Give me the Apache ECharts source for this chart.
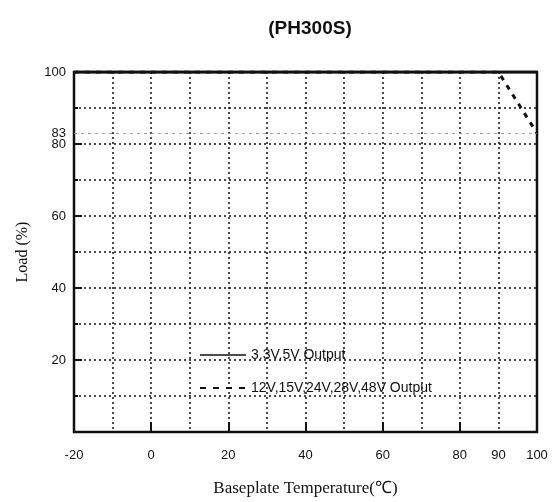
<!DOCTYPE html>
<html>
<head>
<meta charset="utf-8">
<script src="https://cdn.jsdelivr.net/npm/echarts@6/dist/echarts.min.js"></script>
<style>
  html, body { margin: 0; padding: 0; background: #fff; }
  #chart { width: 560px; height: 502px; }
</style>
</head>
<body>
<div id="chart"></div>
<script>
// derating curve data
var lowVoltData = [[-20, 100], [100, 100]];
var highVoltData = [[-20, 100], [90, 100], [100, 83]];
var markValue = 83;
var xLabelValues = [-20, 0, 20, 40, 60, 80, 90, 100];
var yLabelValues = [20, 40, 60, 80, 100];
var seriesNames = ['3.3V,5V Output', '12V,15V,24V,28V,48V Output'];

var dom = document.getElementById('chart');
var chart = echarts.init(dom);

var sans = 'Liberation Sans, Arial, sans-serif';
var serif = 'Liberation Serif, Times New Roman, serif';
var ink = '#111';
var gridDots = { color: ink, width: 1.5, type: [2, 3] };

var option = {
    animation: false,
    color: [ink, ink],
    title: {
        text: '(PH300S)',
        left: 305,
        textAlign: 'center',
        top: 14,
        textStyle: { fontFamily: sans, fontWeight: 'bold', fontSize: 19, color: ink }
    },
    legend: {
        orient: 'vertical',
        left: 194,
        top: 343,
        itemWidth: 46,
        itemHeight: 14,
        itemGap: 19,
        textStyle: { fontFamily: sans, fontSize: 14, color: ink },
        data: [
            { name: seriesNames[0], itemStyle: { opacity: 0 }, lineStyle: { width: 1.5, color: ink, type: 'solid' } },
            { name: seriesNames[1], itemStyle: { opacity: 0 }, lineStyle: { width: 2, color: ink, type: [6, 7] } }
        ]
    },
    grid: {
        left: 74, right: 23, top: 72, bottom: 69,
        show: true, borderColor: ink, borderWidth: 2.5, backgroundColor: 'transparent'
    },
    xAxis: [{
        type: 'value', min: -20, max: 100, interval: 10,
        name: 'Baseplate Temperature(\u2103)',
        nameLocation: 'middle', nameGap: 48,
        nameTextStyle: { fontFamily: serif, fontSize: 17, color: ink },
        axisLine: { show: false, onZero: false },
        axisTick: { show: false },
        splitLine: { show: true, lineStyle: gridDots },
        axisLabel: {
            fontFamily: sans, fontSize: 13, color: ink, margin: 17,
            formatter: function (v) { return xLabelValues.indexOf(v) >= 0 ? String(v) : ''; }
        }
    }, {
        type: 'value', min: -20, max: 100, interval: 20, position: 'bottom',
        axisLine: { show: false, onZero: false },
        axisTick: { show: true, inside: true, length: 10, lineStyle: { color: ink, width: 2 } },
        axisLabel: { show: false },
        splitLine: { show: false }
    }],
    yAxis: [{
        type: 'value', min: 0, max: 100, interval: 10,
        name: 'Load (%)',
        nameLocation: 'middle', nameGap: 43, nameRotate: 90,
        nameTextStyle: { fontFamily: serif, fontSize: 16, color: ink },
        axisLine: { show: false, onZero: false },
        axisTick: { show: true, inside: true, length: 4, lineStyle: { color: ink, width: 2 } },
        splitLine: { show: true, lineStyle: gridDots },
        axisLabel: {
            fontFamily: sans, fontSize: 13, color: ink, margin: 8,
            formatter: function (v) { return yLabelValues.indexOf(v) >= 0 ? String(v) : ''; }
        }
    }, {
        type: 'value', min: 0, max: 100, interval: 20, position: 'left',
        axisLine: { show: false, onZero: false },
        axisTick: { show: true, inside: true, length: 8, lineStyle: { color: ink, width: 2 } },
        axisLabel: { show: false },
        splitLine: { show: false }
    }],
    series: [{
        name: seriesNames[0],
        type: 'line',
        data: lowVoltData,
        symbol: 'none',
        lineStyle: { color: ink, width: 3 },
        markLine: {
            silent: true,
            symbol: 'none',
            lineStyle: { color: '#888', width: 0.8, type: [3, 4] },
            label: {
                position: 'start', distance: 8, formatter: String(markValue),
                fontFamily: sans, fontSize: 13, color: ink
            },
            data: [{ yAxis: markValue }]
        }
    }, {
        name: seriesNames[1],
        type: 'line',
        data: highVoltData,
        symbol: 'none',
        lineStyle: { color: ink, width: 3, type: [5, 6] }
    }]
};

chart.setOption(option);
</script>
</body>
</html>
